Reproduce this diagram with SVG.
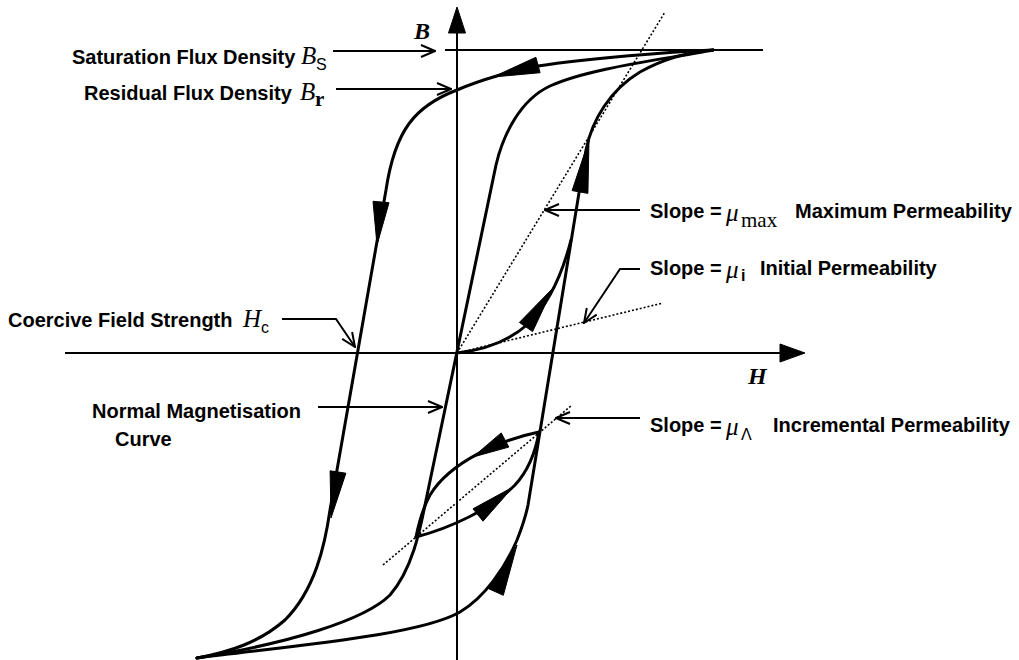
<svg xmlns="http://www.w3.org/2000/svg" width="1019" height="660" viewBox="0 0 1019 660">
<style>
.lbl{font-family:"Liberation Sans",Arial,sans-serif;font-weight:bold;font-size:20px;fill:#000}
.sym{font-family:"Liberation Serif","Times New Roman",serif;font-style:italic;font-size:25px;fill:#000}
.sub{font-family:"Liberation Sans",Arial,sans-serif;font-size:16px;fill:#000}
.subs{font-family:"Liberation Serif","Times New Roman",serif;font-size:21px;fill:#000}
.ax{font-family:"Liberation Serif","Times New Roman",serif;font-style:italic;font-weight:bold;font-size:24px;fill:#000}
.axis{stroke:#000;stroke-width:2;fill:none}
.curve{stroke:#000;stroke-width:3;fill:none;stroke-linejoin:round;stroke-linecap:round}
.dot{stroke:#000;stroke-width:1.6;fill:none;stroke-dasharray:2 2}
.lead{stroke:#000;stroke-width:2;fill:none;marker-end:url(#open)}
.head{fill:#000;stroke:#000;stroke-width:1;stroke-linejoin:round}
</style>
<defs>
<marker id="open" viewBox="0 0 16 14" refX="15" refY="7" markerWidth="16" markerHeight="14" markerUnits="userSpaceOnUse" orient="auto">
<path d="M1,1 L15,7 L1,13" fill="none" stroke="#000" stroke-width="2"/>
</marker>
</defs>
<rect width="1019" height="660" fill="#fff"/>

<g id="axes">
<line class="axis" x1="457" y1="660" x2="457" y2="30"/>
<polygon class="head" points="457,7 448.5,33 465.5,33"/>
<line class="axis" x1="65" y1="353" x2="782" y2="353"/>
<polygon class="head" points="805,353 780,344 780,362"/>
<line class="axis" x1="445" y1="50" x2="763" y2="50"/>
<text class="ax" x="414" y="39">B</text>
<text class="ax" x="748" y="384">H</text>
</g>

<g id="dotted">
<line class="dot" x1="457" y1="353" x2="665" y2="12"/>
<line class="dot" x1="457" y1="353" x2="663" y2="303"/>
<line class="dot" x1="383" y1="565" x2="572" y2="405"/>
</g>

<g id="curves">
<path id="descending" class="curve" d="M713,50 C670,52 590,58 538,66 C515,70 480,80 457,90 C415,106 395,130 386,190 L330,510 C325,545 315,590 285,620 C260,642 230,652 197,658"/>
<path id="ascending" class="curve" d="M197,658 C300,645 420,635 460,612 C485,597 505,568 517,540 C521,530 525,520 528,505 L586,150 C592,120 610,90 640,72 C665,58 690,52 713,50"/>
<path id="middle" class="curve" d="M713,50 C660,60 590,68 550,86 C520,100 503,135 496,165 L425,505 C420,530 412,570 390,595 C365,620 290,643 197,658"/>
<path id="initial" class="curve" d="M457,353 C485,350 510,340 528,324 C548,305 562,275 571,240"/>
<path id="minor-upper" class="curve" d="M539,432 C500,440 450,462 430,495 C423,508 419,522 416,537"/>
<path id="minor-lower" class="curve" d="M416,537 C450,528 490,510 515,485 C527,472 535,455 539,432"/>
</g>

<g id="curve-arrows">
<polygon class="head" points="493,77 540.1,72.7 535.9,57.3"/>
<polygon class="head" points="377,245 373,201.3 389,202.7"/>
<polygon class="head" points="331,518 330.1,470.8 345.9,473.2"/>
<polygon class="head" points="517,545 503.3,595.3 488.7,588.7"/>
<polygon class="head" points="589,140 587.9,193.4 572.1,190.6"/>
<polygon class="head" points="553,288 532.6,331.6 519.4,322.4"/>
<polygon class="head" points="473,457 501.2,432.9 508.8,447.1"/>
<polygon class="head" points="513,487 483,521.2 473,508.8"/>
</g>

<g id="connectors">
<line class="lead" x1="333" y1="51" x2="435" y2="51"/>
<line class="lead" x1="336" y1="89" x2="451" y2="89"/>
<line class="lead" x1="640" y1="210" x2="545" y2="210"/>
<polyline class="lead" points="640,269 620,269 584,323"/>
<polyline class="lead" points="282,319 336,319 355,347"/>
<line class="lead" x1="318" y1="407" x2="442" y2="407"/>
<line class="lead" x1="640" y1="418" x2="556" y2="418"/>
</g>

<g id="label-saturation">
<text class="lbl" x="72" y="64">Saturation Flux Density</text>
<text class="sym" x="301" y="64">B</text>
<text class="sub" x="316" y="70">S</text>
</g>
<g id="label-residual">
<text class="lbl" x="84" y="100">Residual Flux Density</text>
<text class="sym" x="300" y="100">B</text>
<text class="subs" x="315" y="106" font-weight="bold" font-size="18">r</text>
</g>
<g id="label-coercive">
<text class="lbl" x="8" y="327">Coercive Field Strength</text>
<text class="sym" x="243" y="327">H</text>
<text class="sub" x="261" y="333">c</text>
</g>
<g id="label-normal">
<text class="lbl" x="92" y="418">Normal Magnetisation</text>
<text class="lbl" x="115" y="446">Curve</text>
</g>
<g id="label-mumax">
<text class="lbl" x="650" y="218">Slope =</text>
<text class="sym" x="726" y="221">μ</text>
<text class="subs" x="741" y="227">max</text>
<text class="lbl" x="795" y="218">Maximum Permeability</text>
</g>
<g id="label-mui">
<text class="lbl" x="650" y="275">Slope =</text>
<text class="sym" x="726" y="278">μ</text>
<text class="sub" x="741" y="281" font-weight="bold">i</text>
<text class="lbl" x="760" y="275">Initial Permeability</text>
</g>
<g id="label-mulambda">
<text class="lbl" x="650" y="432">Slope =</text>
<text class="sym" x="726" y="435">μ</text>
<text class="sub" x="741" y="440">Λ</text>
<text class="lbl" x="773" y="432">Incremental Permeability</text>
</g>
</svg>
